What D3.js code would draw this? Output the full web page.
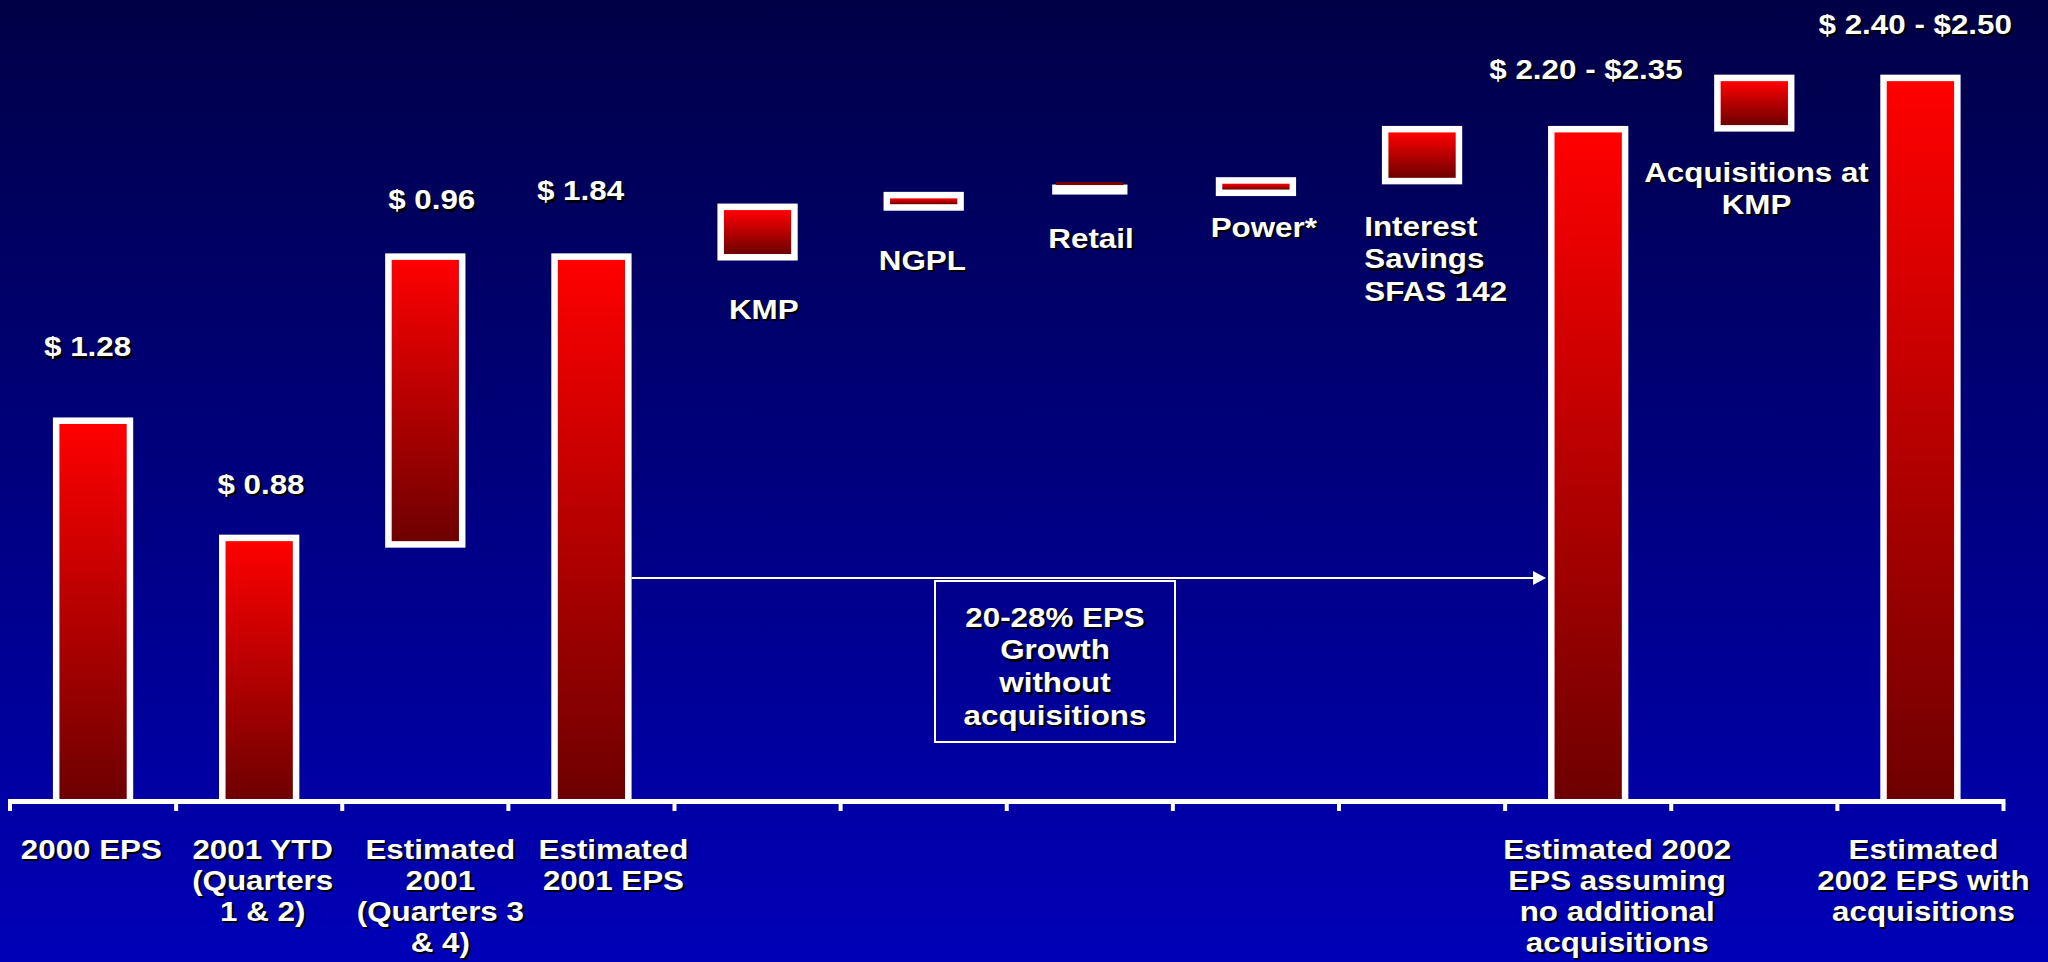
<!DOCTYPE html>
<html>
<head>
<meta charset="utf-8">
<script src="https://cdn.jsdelivr.net/npm/d3@7"></script>
<style>
  html, body { margin: 0; padding: 0; overflow: hidden; background: #000070; }
  svg text { font-family: "Liberation Sans", Arial, Helvetica, sans-serif; font-weight: bold; font-size: 28.5px; }
</style>
</head>
<body>
<svg id="chart" width="2048" height="962"></svg>
<script>
// ---- EPS walk: 2000 actual to 2002 estimate ----
const categories = [
  "2000 EPS", "2001 YTD", "Est 2001 Q3-Q4", "Est 2001 EPS", "KMP", "NGPL",
  "Retail", "Power*", "Interest Savings", "Est 2002 EPS", "Acquisitions at KMP", "Est 2002 EPS with acq"
];
const axisLabels = [
  ["2000 EPS"],
  ["2001 YTD", "(Quarters", "1 & 2)"],
  ["Estimated", "2001", "(Quarters 3", "& 4)"],
  ["Estimated", "2001 EPS"],
  [], [], [], [], [],
  ["Estimated 2002", "EPS assuming", "no additional", "acquisitions"],
  [],
  ["Estimated", "2002 EPS with", "acquisitions"]
];
// bar spans in $ per share (start -> end); totals start at 0
const barStart = [0, 0, 0.88, 0, 1.86, 2.03, 2.08, 2.08, 2.12, 0, 2.30, 0];
const barEnd   = [1.28, 0.88, 1.84, 1.84, 2.01, 2.05, 2.08, 2.10, 2.275, 2.275, 2.45, 2.45];
const valueLabels = ["$ 1.28", "$ 0.88", "$ 0.96", "$ 1.84", null, null, null, null, null,
                     "$ 2.20 - $2.35", null, "$ 2.40 - $2.50"];
const stepLabels = [null, null, null, null, ["KMP"], ["NGPL"], ["Retail"], ["Power*"],
                    ["Interest", "Savings", "SFAS 142"], null, ["Acquisitions at", "KMP"], null];
const growthNote = ["20-28% EPS", "Growth", "without", "acquisitions"];

// ---- layout ----
const W = 2048, H = 962;
const ZERO_Y = 799, PX_PER_DOLLAR = 293;
const BORDER = 6.5, LINE = 32.4, AXIS_LINE = 31.2, SX = 1.1;
// per-label offsets: [dx from band centre, gap above frame top]
const valueNudge = [[-5.5, 61], [1.8, 41], [6.4, 44], [-10.9, 53], null, null, null, null, null,
                    [-2.2, 47], null, [-5.2, 40.5]];
// [dx from band centre, gap below frame bottom, anchor]
const stepNudge = [null, null, null, null, [6.2, 58.5, "middle"], [-1.4, 59.3, "middle"],
                   [1.2, 53, "middle"], [7.8, 40.6, "middle"], [-57.8, 51.7, "start"], null,
                   [2.2, 49.9, "middle"], null];
const axisNudge = [-1.7, 3.5, 15, 22, 0, 0, 0, 0, 0, 29, 0, 3];

const svg = d3.select("#chart");
const defs = svg.append("defs");

const bg = defs.append("linearGradient").attr("id", "bg")
  .attr("x1", 0).attr("y1", 0).attr("x2", 0).attr("y2", 1);
bg.append("stop").attr("offset", "0%").attr("stop-color", "#000046");
bg.append("stop").attr("offset", "100%").attr("stop-color", "#0000b8");

const barGrad = defs.append("linearGradient").attr("id", "barGrad")
  .attr("x1", 0).attr("y1", 0).attr("x2", 0).attr("y2", 1);
barGrad.append("stop").attr("offset", "0%").attr("stop-color", "#ff0000");
barGrad.append("stop").attr("offset", "100%").attr("stop-color", "#6e0000");

svg.append("rect").attr("width", W).attr("height", H).attr("fill", "url(#bg)");

const x = d3.scaleBand().domain(categories).range([10, 2003.5]).paddingInner(0).paddingOuter(0);
const y = d3.scaleLinear().domain([0, 2.5]).range([ZERO_Y, ZERO_Y - 2.5 * PX_PER_DOLLAR]);
const bw = x.bandwidth();
const barW = bw * 0.405;
const cx = c => x(c) + bw / 2;

const bars = categories.map((c, i) => ({
  c, i, lo: Math.min(barStart[i], barEnd[i]), hi: Math.max(barStart[i], barEnd[i])
}));

// white frames behind every bar
const gBars = svg.append("g");
bars.forEach(d => {
  const left = cx(d.c) - barW / 2;
  if (d.hi === d.lo) {
    // a flat step: white band with a thin dark cap
    const yy = y(d.hi);
    gBars.append("rect").attr("x", left - 4).attr("y", yy - 5)
      .attr("width", barW + 8).attr("height", 10).attr("fill", "#ffffff");
    gBars.append("rect").attr("x", left).attr("y", yy - 7.5)
      .attr("width", barW).attr("height", 3).attr("fill", "#7a0000");
    return;
  }
  const top = y(d.hi), bot = y(d.lo);
  gBars.append("rect").attr("x", left - BORDER).attr("y", top - BORDER)
    .attr("width", barW + 2 * BORDER)
    .attr("height", (d.lo === 0 ? bot - top + BORDER : bot - top + 2 * BORDER))
    .attr("fill", "#ffffff");
  gBars.append("rect").attr("x", left).attr("y", top)
    .attr("width", barW).attr("height", Math.max(bot - top, 1))
    .attr("fill", "url(#barGrad)");
});

// category axis with boundary ticks
const gAxis = svg.append("g");
const [r0, r1] = x.range();
gAxis.append("line").attr("x1", r0 - 2).attr("x2", r1 + 2)
  .attr("y1", ZERO_Y + 2.5).attr("y2", ZERO_Y + 2.5)
  .attr("stroke", "#ffffff").attr("stroke-width", 5);
const bounds = categories.map(c => x(c)).concat([r1]);
gAxis.selectAll("line.tick").data(bounds).enter().append("line")
  .attr("class", "tick")
  .attr("x1", d => d).attr("x2", d => d)
  .attr("y1", ZERO_Y + 4).attr("y2", ZERO_Y + 12)
  .attr("stroke", "#ffffff").attr("stroke-width", 4);

// shadowed text helper
const gText = svg.append("g");
function shadowText(lines, px, py, anchor, lh = LINE) {
  lines.forEach((t, k) => {
    const yy = py + k * lh;
    gText.append("text").attr("transform", `translate(${px + 2.2},${yy + 2.2}) scale(${SX},1)`)
      .attr("text-anchor", anchor).attr("fill", "#000000").text(t);
    gText.append("text").attr("transform", `translate(${px},${yy}) scale(${SX},1)`)
      .attr("text-anchor", anchor).attr("fill", "#ffffff").text(t);
  });
}

// value labels above totals
bars.forEach(d => {
  if (!valueLabels[d.i]) return;
  const [dx, gap] = valueNudge[d.i];
  shadowText([valueLabels[d.i]], cx(d.c) + dx, y(d.hi) - BORDER - gap, "middle");
});

// step labels below the floating boxes
bars.forEach(d => {
  if (!stepLabels[d.i]) return;
  const [dx, gap, anchor] = stepNudge[d.i];
  const bottom = d.hi === d.lo ? y(d.lo) + 5 : y(d.lo) + BORDER;
  shadowText(stepLabels[d.i], cx(d.c) + dx, bottom + gap, anchor);
});

// category labels under the axis
categories.forEach((c, i) => {
  if (!axisLabels[i].length) return;
  shadowText(axisLabels[i], cx(c) + axisNudge[i], 858.5, "middle", AXIS_LINE);
});

// growth arrow from 2001 EPS to 2002 EPS
const arrowY = 578;
const ax0 = cx(categories[3]) + barW / 2 + BORDER;
const ax1 = cx(categories[9]) - barW / 2 - BORDER - 2;
svg.append("line").attr("x1", ax0).attr("x2", ax1 - 10)
  .attr("y1", arrowY).attr("y2", arrowY)
  .attr("stroke", "#ffffff").attr("stroke-width", 2);
svg.append("path")
  .attr("d", `M${ax1},${arrowY} L${ax1 - 13},${arrowY - 7} L${ax1 - 13},${arrowY + 7} Z`)
  .attr("fill", "#ffffff");

// growth note box
const boxX = 935, boxY = 581, boxW = 240, boxH = 161;
svg.append("rect").attr("x", boxX).attr("y", boxY).attr("width", boxW).attr("height", boxH)
  .attr("fill", "none").attr("stroke", "#ffffff").attr("stroke-width", 2);
svg.node().appendChild(gText.node());
shadowText(growthNote, boxX + boxW / 2, 626.5, "middle", 32.9);
</script>
</body>
</html>
